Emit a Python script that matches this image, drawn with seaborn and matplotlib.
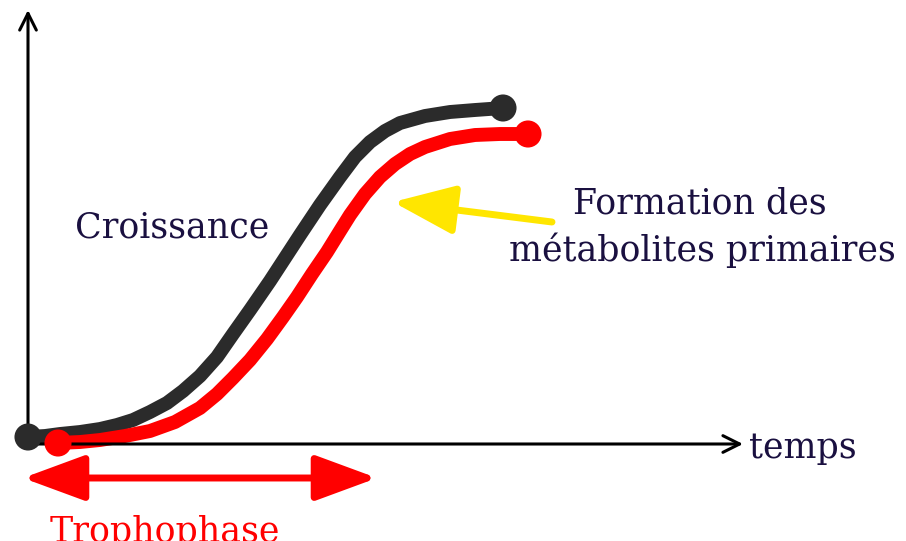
import seaborn as sns
import matplotlib.pyplot as plt
import pandas as pd

# curves (pixel-like units, y grows downwards)
croissance_x = [28, 45, 60, 80, 100, 117, 133, 150, 167, 183, 200, 217, 233, 250,
                270, 285, 300, 320, 340, 355, 370, 385, 400, 425, 450, 475, 503]
croissance_y = [437, 436, 434, 432, 429, 425, 420, 412, 403, 391, 376, 357, 334, 310,
                281, 258, 235, 205, 177, 157, 142, 131, 123, 116, 112, 110, 108]
metabolites_x = [58, 80, 100, 125, 150, 175, 200, 217, 233, 250, 267, 283, 297, 312,
                 327, 340, 350, 365, 380, 395, 410, 425, 450, 475, 500, 528]
metabolites_y = [443, 442, 440, 436, 431, 422, 408, 394, 378, 360, 339, 317, 297, 274,
                 252, 231, 215, 194, 177, 164, 154, 147, 139, 135, 134, 134]

df_c = pd.DataFrame({'t': croissance_x, 'y': croissance_y})
df_m = pd.DataFrame({'t': metabolites_x, 'y': metabolites_y})

sns.set_theme(style='white')
plt.rcParams['font.family'] = ['DejaVu Serif']

fig = plt.figure(figsize=(9.06, 5.41), dpi=100)
ax = fig.add_axes([0, 0, 1, 1])

# axes with open arrow heads
ax.annotate('', xy=(28, 10), xytext=(28, 440),
            arrowprops=dict(arrowstyle='->', color='black', lw=2.2,
                            mutation_scale=30, shrinkA=0, shrinkB=0))
ax.annotate('', xy=(743, 444), xytext=(28, 444),
            arrowprops=dict(arrowstyle='->', color='black', lw=2.2,
                            mutation_scale=30, shrinkA=0, shrinkB=0))

black = '#2b2b2b'
red = '#ff0000'
sns.lineplot(data=df_c, x='t', y='y', sort=False, color=black, lw=10,
             solid_capstyle='round', solid_joinstyle='round', ax=ax)
sns.lineplot(data=df_m, x='t', y='y', sort=False, color=red, lw=10,
             solid_capstyle='round', solid_joinstyle='round', ax=ax)
sns.scatterplot(data=df_c.iloc[[0, -1]], x='t', y='y', color=black, s=380,
                edgecolor='none', ax=ax, zorder=5)
sns.scatterplot(data=df_m.iloc[[0, -1]], x='t', y='y', color=red, s=380,
                edgecolor='none', ax=ax, zorder=5)
ax.set_xlim(0, 906)
ax.set_ylim(541, 0)
ax.axis('off')

# yellow pointer
ax.annotate('', xy=(393, 202), xytext=(552, 222),
            arrowprops=dict(arrowstyle='-|>,head_length=1.9,head_width=0.75',
                            color='#ffe600', lw=5, mutation_scale=20,
                            shrinkA=0, shrinkB=0))

# red double arrow
ax.annotate('', xy=(23, 478), xytext=(377, 478),
            arrowprops=dict(arrowstyle='<|-|>,head_length=1.9,head_width=0.7',
                            color=red, lw=5, mutation_scale=20,
                            shrinkA=0, shrinkB=0))

txt = '#1a1040'
ax.text(75, 238, 'Croissance', fontsize=25, color=txt, va='baseline')
ax.text(700, 213, 'Formation des', fontsize=25, color=txt,
        ha='center', va='baseline')
ax.text(702, 261, 'métabolites primaires', fontsize=25, color=txt,
        ha='center', va='baseline')
ax.text(749, 458, 'temps', fontsize=25, color=txt, va='baseline')
# cut by the bottom edge, as in the reference
ax.text(50, 515, 'Trophophase', fontsize=25, color=red, va='top')

fig.savefig('out.png', dpi=100)
